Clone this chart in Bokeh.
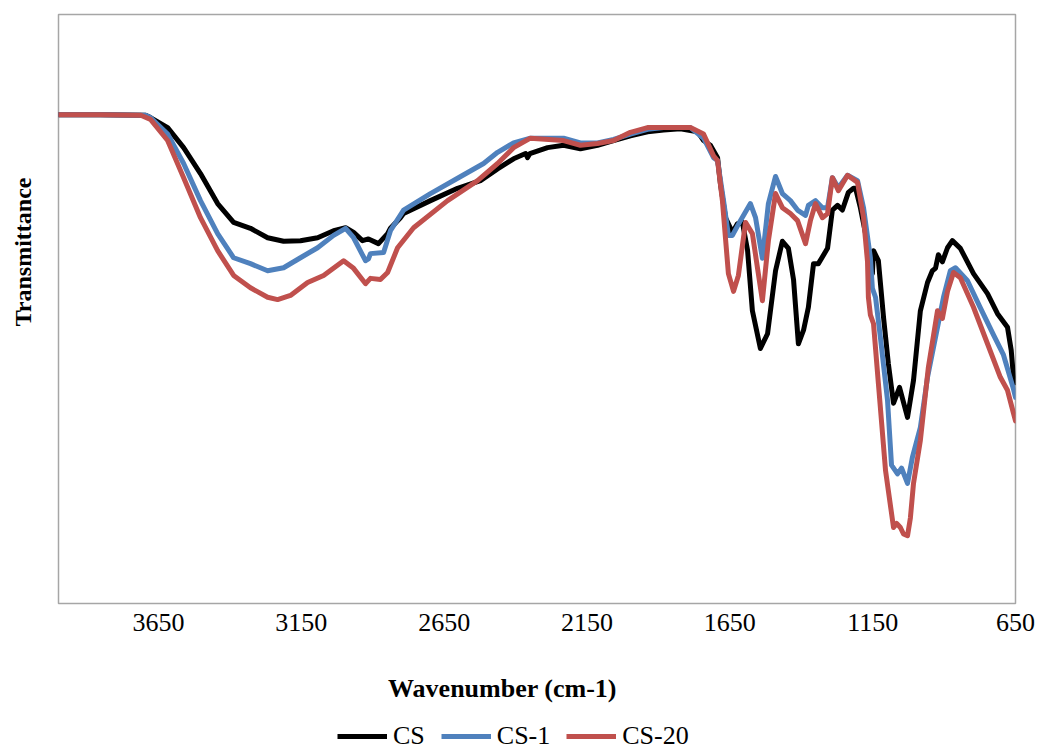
from bokeh.plotting import figure
from bokeh.layouts import column
from bokeh.models import Range1d, FixedTicker, Legend, LegendItem, Title, Label
from bokeh.embed import file_html
from bokeh.resources import INLINE

# ---------------- data ----------------
tick_values = [3650, 3150, 2650, 2150, 1650, 1150, 650]

cs_wn = [4000, 3853, 3695, 3678, 3618, 3562, 3503, 3443, 3387, 3328, 3268, 3212, 3153, 3093,
         3037, 2995, 2967, 2936, 2915, 2880, 2848, 2838, 2803, 2792, 2698, 2603, 2523, 2463,
         2407, 2365, 2358, 2350, 2288, 2232, 2173, 2113, 2057, 1998, 1938, 1882, 1823, 1763,
         1742, 1718, 1693, 1683, 1665, 1641, 1623, 1606, 1588, 1571, 1543, 1518, 1490, 1466,
         1445, 1427, 1410, 1392, 1375, 1357, 1340, 1308, 1291, 1273, 1256, 1235, 1217, 1210,
         1193, 1168, 1151, 1147, 1130, 1112, 1095, 1077, 1056, 1028, 1007, 983, 958, 941, 930,
         920, 906, 888, 871, 843, 797, 748, 713, 678, 665, 657, 650]
cs_t = [83.0, 83.0, 82.9, 82.5, 80.8, 77.4, 73.0, 67.9, 64.7, 63.7, 62.1, 61.5, 61.6, 62.1,
        63.3, 63.8, 63.0, 61.6, 61.9, 61.1, 62.8, 63.7, 65.5, 66.2, 68.4, 70.5, 71.8, 73.8,
        75.5, 76.4, 75.7, 76.4, 77.4, 77.8, 77.2, 77.8, 78.6, 79.4, 80.1, 80.4, 80.6, 80.1,
        78.6, 77.8, 75.7, 71.3, 65.5, 63.0, 64.5, 64.7, 60.0, 49.7, 43.3, 45.8, 56.5, 61.5,
        60.3, 55.0, 44.1, 46.4, 50.3, 57.7, 57.7, 60.3, 66.8, 67.6, 66.8, 69.8, 70.5, 70.5,
        67.2, 61.1, 56.0, 59.9, 58.2, 48.6, 40.7, 34.0, 36.7, 31.6, 37.9, 49.7, 54.5, 56.5, 56.9,
        59.2, 58.0, 60.4, 61.6, 60.3, 56.0, 52.6, 49.2, 46.9, 43.0, 38.4, 37.5]

cs1_wn = [4000, 3853, 3695, 3678, 3618, 3562, 3503, 3443, 3387, 3328, 3268, 3212, 3153, 3093,
          3037, 2995, 2967, 2936, 2925, 2915, 2908, 2862, 2838, 2792, 2698, 2603, 2512, 2463,
          2407, 2348, 2232, 2173, 2113, 2057, 1998, 1938, 1882, 1788, 1742, 1707, 1693, 1672,
          1655, 1641, 1613, 1578, 1560, 1536, 1515, 1490, 1466, 1438, 1413, 1385, 1375, 1350,
          1326, 1308, 1291, 1270, 1238, 1203, 1182, 1158, 1151, 1140, 1123, 1098, 1084, 1063,
          1049, 1028, 1011, 983, 958, 923, 902, 878, 860, 818, 773, 727, 692, 657, 650]
cs1_t = [83.0, 83.0, 82.9, 82.5, 79.7, 74.7, 68.4, 62.8, 58.7, 57.7, 56.5, 57.0, 58.7, 60.4,
         62.5, 63.7, 62.1, 59.2, 58.2, 58.5, 59.4, 59.6, 63.3, 66.8, 69.6, 72.2, 74.7, 76.6,
         78.2, 79.0, 79.0, 78.2, 78.2, 78.8, 79.7, 80.5, 80.8, 80.8, 79.0, 75.7, 75.2, 68.4,
         62.5, 62.5, 65.0, 67.9, 65.5, 58.6, 67.9, 72.5, 69.6, 68.4, 66.8, 65.9, 67.6, 68.4,
         67.2, 67.2, 72.3, 70.6, 72.7, 71.8, 67.2, 58.7, 53.5, 52.0, 45.2, 34.5, 23.5, 22.0,
         23.0, 20.4, 24.8, 29.9, 38.4, 46.9, 52.0, 56.5, 57.0, 54.8, 50.2, 45.6, 42.2, 36.4, 35.0]

cs20_wn = [4000, 3853, 3712, 3678, 3618, 3562, 3503, 3443, 3387, 3328, 3268, 3233, 3188, 3128,
           3072, 3002, 2967, 2925, 2908, 2873, 2848, 2813, 2757, 2638, 2533, 2463, 2407, 2348,
           2232, 2173, 2113, 2057, 1998, 1938, 1788, 1742, 1707, 1693, 1676, 1655, 1637, 1620,
           1595, 1571, 1553, 1536, 1515, 1490, 1466, 1438, 1413, 1385, 1368, 1350, 1326, 1308,
           1291, 1270, 1238, 1203, 1182, 1168, 1165, 1158, 1147, 1130, 1105, 1077, 1066, 1053,
           1042, 1028, 1018, 1007, 983, 955, 923, 906, 888, 867, 843, 797, 748, 703, 678, 657, 650]
cs20_t = [83.0, 83.0, 82.9, 82.2, 78.6, 72.3, 65.5, 59.9, 55.7, 53.6, 52.0, 51.6, 52.3, 54.5,
          55.7, 58.2, 56.9, 54.3, 55.2, 55.0, 56.2, 60.4, 63.8, 68.4, 71.8, 74.7, 77.4, 79.0,
          78.6, 77.8, 78.1, 78.6, 80.0, 80.8, 80.8, 79.7, 76.0, 75.2, 68.4, 56.0, 53.0, 55.7,
          64.7, 62.8, 56.9, 51.4, 61.6, 69.6, 67.2, 66.2, 65.0, 61.1, 65.0, 67.9, 65.5, 66.2,
          72.3, 70.1, 72.7, 71.5, 65.5, 58.0, 52.0, 49.0, 47.5, 37.4, 22.6, 12.9, 13.6, 12.9,
          11.8, 11.5, 14.5, 20.4, 27.7, 40.1, 49.7, 48.4, 53.0, 56.2, 55.3, 50.3, 44.1, 38.4,
          36.2, 32.3, 31.0]

series_names = ["CS", "CS-1", "CS-20"]
series_colors = ["#000000", "#4F81BD", "#C0504D"]
series = [(cs_wn, cs_t), (cs1_wn, cs1_t), (cs20_wn, cs20_t)]

SERIF = "Liberation Serif"
LINE_W = 5

# ---------------- main chart ----------------
p = figure(width=1037, height=645,
           x_range=Range1d(4000, 650), y_range=Range1d(0, 100),
           output_backend="svg", toolbar_location=None,
           min_border_left=58, min_border_right=22,
           min_border_top=14, min_border_bottom=42)
p.background_fill_color = "white"
p.border_fill_color = "white"
p.grid.visible = False
p.outline_line_color = "#A6A6A6"
p.outline_line_width = 1.5

ax = p.xaxis[0]
ax.ticker = FixedTicker(ticks=tick_values)
ax.major_label_text_font = SERIF
ax.major_label_text_font_size = "26px"
ax.major_label_text_color = "#000000"
ax.axis_line_color = None
ax.major_tick_line_color = None
ax.minor_tick_line_color = None
ax.major_tick_out = 0
ax.major_tick_in = 0
ax.major_label_standoff = 10

# left value axis is unlabeled in the reference: one hidden tick, no line, no label text
ay = p.yaxis[0]
ay.ticker = FixedTicker(ticks=[50])
ay.major_label_overrides = {50: ""}
ay.axis_line_color = None
ay.major_tick_line_color = None
ay.minor_tick_line_color = None
ay.major_tick_in = 0
ay.major_tick_out = 22
ay.major_label_standoff = 0

for (xs, ys), c in zip(series, series_colors):
    p.line(xs, ys, line_color=c, line_width=LINE_W, line_join="round", line_cap="round")

ytitle = Title(text="Transmittance", align="right", offset=163, vertical_align="middle",
               standoff=0, text_font=SERIF, text_font_size="24px",
               text_font_style="bold", text_color="#000000")
p.add_layout(ytitle, "left")

# ---------------- strip below: axis title + legend ----------------
q = figure(width=1037, height=106, x_range=Range1d(0, 1), y_range=Range1d(0, 1),
           output_backend="svg", toolbar_location=None,
           x_axis_location=None, y_axis_location=None,
           min_border=0, min_border_left=0, min_border_right=0,
           min_border_top=0, min_border_bottom=0)
q.grid.visible = False
q.outline_line_color = None
q.background_fill_color = "white"
q.border_fill_color = "white"

xtitle = Label(x=444, y=63, x_units="screen", y_units="screen", text="Wavenumber (cm-1)",
               text_align="center", text_baseline="middle",
               text_font=SERIF, text_font_size="26px", text_font_style="bold",
               text_color="#000000")
q.add_layout(xtitle)

# legend keys: the same series, lying outside this strip's visible ranges
keys = [q.line(xs, ys, line_color=c, line_width=LINE_W) for (xs, ys), c in zip(series, series_colors)]
legend = Legend(items=[LegendItem(label=n, renderers=[r]) for n, r in zip(series_names, keys)],
                orientation="horizontal", location=(279, 0),
                padding=0, margin=0, spacing=16, label_standoff=6,
                glyph_width=50, glyph_height=20, label_height=20,
                label_text_font=SERIF, label_text_font_size="26px",
                label_text_color="#000000",
                border_line_color=None, background_fill_alpha=0)
q.add_layout(legend)

layout = column(p, q, spacing=0)
open("out.html", "w").write(file_html(layout, INLINE))
